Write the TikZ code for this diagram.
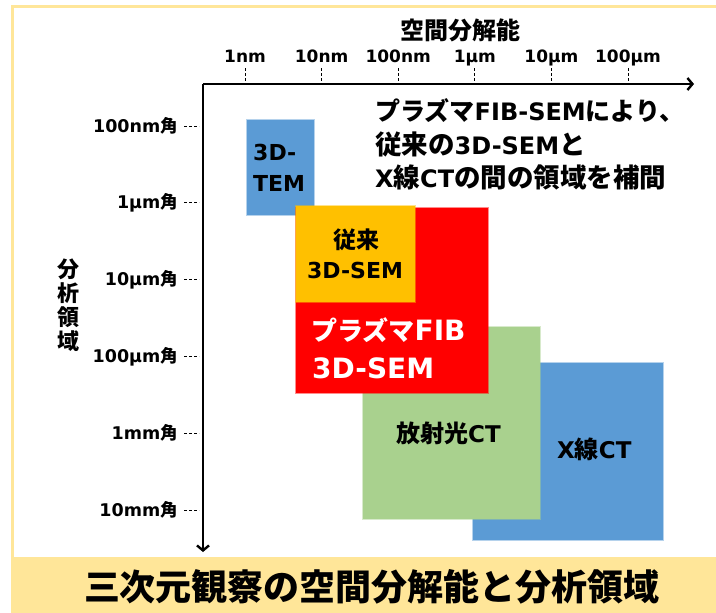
\documentclass[tikz,border=0pt]{standalone}
\usepackage{fontspec}
\setmainfont{DejaVu Sans}
\newfontfamily\jp{Noto Sans CJK JP}
\usetikzlibrary{arrows.meta}
\newcommand\fs[1]{\fontsize{#1}{#1}\selectfont}
\newcommand\jpt[2][]{{\jp\ifx\relax#1\relax\else\fs{#1}\fi #2}}
\definecolor{cblue}{HTML}{5B9BD5}
\definecolor{cred}{HTML}{FF0000}
\definecolor{corange}{HTML}{FFC000}
\definecolor{cgreen}{HTML}{A9D18E}
\definecolor{cyellow}{HTML}{FFE699}
\begin{document}
\begin{tikzpicture}[x=1pt,y=-1pt,
  lbl/.style={inner sep=0pt, font=\bfseries},
  region/.style={fill=#1, draw=#1, draw opacity=0.45, line width=2.5pt},
  axis/.style={line width=2.4pt, -{Straight Barb[length=5pt,width=12pt,line width=2.4pt]}},
  tick/.style={line width=1pt, dash pattern=on 3pt off 2pt}]
\useasboundingbox (0,0) rectangle (716,613);
% frame
\fill[cyellow] (11,557) rectangle (716,613);
\draw[cyellow, line width=3pt] (12.5,557) -- (12.5,6) -- (716,6);
% regions
\fill[region=cblue] (247,120) rectangle (314,215);
\fill[region=cblue] (473,363) rectangle (663,540);
\fill[region=cgreen] (363,327) rectangle (540,519);
\fill[region=cred] (296,208) rectangle (488,393);
\fill[region=corange] (296,206) rectangle (415,302);
% axes
\coordinate (o) at (203,84);
\coordinate (xe) at (694,84);
\coordinate (ye) at (203,552);
\draw[axis] (o) -- (xe);
\draw[axis] (o) -- (ye);
% x ticks
\foreach \x/\t/\n in {245/1nm/a,321.6/10nm/b,398.2/100nm/c,474.8/1μm/d,551.4/10μm/e,628/100μm/f}{
  \node[lbl, font=\bfseries\fs{17}, anchor=base] (x\n) at (\x,63) {\t};
  \coordinate (xt\n) at (\x,83);
  \draw[tick] (x\n.south |- 0,68) -- (xt\n);
}
\node[lbl, font=\jp\bfseries\fs{24}, anchor=base] (xtitle) at (460,39) {空間分解能};
% y ticks
\foreach \y/\t/\n in {126/100nm/a,202.8/1μm/b,279.6/10μm/c,356.4/100μm/d,433.2/1mm/e,510/10mm/f}{
  \node[lbl, font=\bfseries\fs{17.5}, anchor=east] (y\n) at (178,\y) {\t\jpt{角}};
  \coordinate (yt\n) at (199,\y);
  \draw[tick] (184,\y) -- (yt\n);
}
\node[lbl, font=\jp\bfseries\fontsize{22}{24}\selectfont, align=center] (ytitle) at (68,305) {分\\析\\領\\域};
% box labels
\node[lbl, font=\bfseries\fs{22}, anchor=base west] (tem1) at (253,160) {3D-};
\node[lbl, font=\bfseries\fs{22}, anchor=base west] (tem2) at (253,191) {TEM};
\node[lbl, font=\jp\bfseries\fs{23}, anchor=base] (sem1) at (356,248) {従来};
\node[lbl, font=\bfseries\fs{22}, anchor=base] (sem2) at (355,278) {3D-SEM};
\node[lbl, font=\bfseries\fs{28}, text=white, anchor=base west] (pf1) at (311,340) {\jpt[26]{プラズマ}FIB};
\node[lbl, font=\bfseries\fs{28}, text=white, anchor=base west] (pf2) at (312,378) {3D-SEM};
\node[lbl, font=\bfseries\fs{23}, anchor=base west] (sr) at (396,442) {\jpt[24]{放射光}CT};
\node[lbl, font=\bfseries\fs{23}, anchor=base west] (xr) at (557,458) {X\jpt[24]{線}CT};
% annotation
\node[lbl, font=\bfseries\fs{24}, anchor=base west] (n1) at (375,120) {\jpt[25]{プラズマ}FIB-SEM\jpt[25]{により、}};
\node[lbl, font=\bfseries\fs{24}, anchor=base west] (n2) at (375,154) {\jpt[26.5]{従来の}3D-SEM\jpt[26.5]{と}};
\node[lbl, font=\bfseries\fs{24}, anchor=base west] (n3) at (375,187) {X\jpt[26.5]{線}CT\jpt[26.5]{の間の領域を補間}};
% title
\node[lbl, font=\jp\bfseries\fs{36}, anchor=base] (title) at (372,600) {三次元観察の空間分解能と分析領域};
\end{tikzpicture}
\end{document}
